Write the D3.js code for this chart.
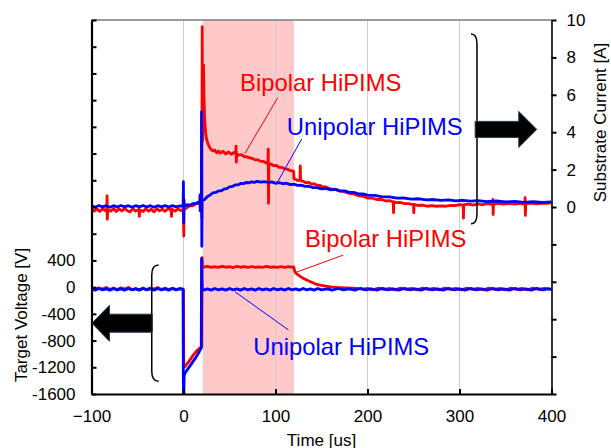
<!DOCTYPE html>
<html>
<head>
<meta charset="utf-8">
<script src="https://cdn.jsdelivr.net/npm/d3@7"></script>
<style>
  html, body { margin: 0; padding: 0; background: #fff; }
  svg { display: block; font-family: "Liberation Sans", Arial, sans-serif; }
</style>
</head>
<body>
<svg id="chart" width="611" height="448"></svg>
<script>
// ---- Data: time in microseconds ----
const timeTicks = [-100, 0, 100, 200, 300, 400];
const voltageTicks = [-1600, -1200, -800, -400, 0, 400, 800, 1200, 1600, 2000, 2400, 2800, 3200, 3600, 4000];
const voltageLabels = [-1600, -1200, -800, -400, 0, 400];
const currentTicks = [-10, -8, -6, -4, -2, 0, 2, 4, 6, 8, 10];
const currentLabels = [0, 2, 4, 6, 8, 10];
const pulseWindow = [21, 120];

// Substrate current [A], bipolar pulse
const bipolarCurrent = [
  [-100,-0.10],[-97,-0.22],[-94,-0.10],[-91,-0.24],[-88,-0.09],[-85,-0.20],[-83.4,-0.12],[-83.1,0.60],[-82.8,-0.65],[-82.4,-0.15],
  [-79,-0.22],[-76,-0.08],[-73,-0.24],[-70,-0.10],[-67,-0.21],[-64,-0.08],[-61,-0.20],[-58,-0.26],[-55,-0.09],[-52,-0.22],
  [-48.3,-0.12],[-48,-0.50],[-47.6,-0.15],[-44,-0.24],[-41,-0.09],[-38,-0.22],[-35,-0.12],[-32,-0.26],[-29,-0.09],[-26,-0.21],
  [-23,-0.11],[-20,-0.23],[-17,-0.09],[-13.4,-0.15],[-13,-0.50],[-12.6,-0.12],[-9,-0.22],[-6,-0.09],[-3,-0.19],[-0.5,-0.14],
  [0,-0.30],[0.3,-1.55],[0.6,0.10],[1.2,-0.12],[4,-0.02],[7,0.06],[10,0.06],[13,0.16],[16,0.18],[18.5,0.30],
  [19.6,0.22],[19.9,-0.60],[20.3,9.65],[20.7,3.50],[21.3,5.20],[21.8,7.60],[22.3,5.80],[23,4.70],[24,4.00],[25,3.65],
  [26.5,3.40],[28,3.22],[30,3.08],[32,3.00],[34,3.04],[36,2.90],[38,3.00],[40,2.88],[43,2.98],[46,2.84],
  [49,2.94],[52,2.82],[55,2.92],[56.8,2.86],[57.1,3.25],[57.4,2.40],[57.8,2.86],[60,2.78],[63,2.80],[66,2.70],
  [69,2.68],[72,2.62],[75,2.60],[78,2.52],[81,2.52],[84,2.44],[87,2.44],[90,2.35],[91.8,2.37],[92.1,3.10],
  [92.4,0.20],[92.8,2.30],[95,2.30],[98,2.20],[101,2.22],[104,2.12],[107,2.12],[110,2.04],[113,2.02],[116,1.95],
  [119.6,1.92],[120.2,1.50],[122,1.48],[124,1.42],[126.6,1.42],[126.9,2.20],[127.3,1.40],[130,1.38],[133,1.30],[136,1.32],
  [139,1.23],[142,1.24],[145,1.16],[148,1.16],[151,1.08],[155,1.07],[160,0.96],[165,0.95],[170,0.85],[175,0.82],
  [180,0.73],[185,0.70],[190,0.60],[195,0.58],[200,0.48],[205,0.48],[210,0.40],[215,0.40],[220,0.32],[224,0.34],
  [228,0.27],[228.3,-0.30],[228.6,0.28],[232,0.23],[236,0.24],[240,0.18],[245,0.18],[250,0.12],[250.3,-0.30],[250.6,0.14],
  [255,0.08],[260,0.10],[265,0.04],[270,0.07],[275,0.04],[280,0.06],[285,0.04],[290,0.09],[295,0.08],[300,0.13],
  [304,0.10],[304.3,-0.60],[304.6,0.12],[310,0.15],[315,0.10],[320,0.17],[325,0.12],[330,0.18],[336,0.14],[336.3,0.40],
  [336.6,-0.40],[337,0.15],[342,0.19],[348,0.15],[354,0.19],[360,0.15],[366,0.19],[371,0.15],[371.3,0.50],[371.6,-0.45],
  [372,0.17],[378,0.21],[384,0.17],[390,0.21],[395,0.19],[400,0.22]
];

// Substrate current [A], unipolar pulse
const unipolarCurrent = [
  [-100,0.06],[-96,-0.01],[-92,0.08],[-88,0.01],[-84,0.07],[-80,-0.01],[-76,0.07],[-72,0.00],[-68,0.08],[-64,0.01],
  [-60,0.07],[-56,-0.01],[-52,0.07],[-48,0.01],[-44,0.08],[-40,0.00],[-36,0.07],[-32,-0.01],[-28,0.07],[-24,0.01],
  [-20,0.07],[-16,0.00],[-12,0.07],[-8,0.01],[-4,0.06],[-0.4,0.03],[-0.1,1.35],[0.2,-0.85],[0.5,0.40],[1,0.05],
  [4,0.12],[7,0.10],[10,0.18],[13,0.18],[16,0.26],[17.7,0.24],[17.9,0.65],[18.1,-0.20],[18.4,0.30],[19.4,0.32],
  [19.6,5.10],[19.9,-2.10],[20.2,0.35],[21,0.38],[23,0.40],[26,0.56],[29,0.64],[32,0.76],[35,0.78],[38,0.86],
  [41,0.86],[44,0.96],[47,0.98],[50,1.08],[53,1.10],[56,1.18],[59,1.18],[62,1.26],[65,1.25],[68,1.31],
  [71,1.29],[74,1.35],[77,1.32],[80,1.37],[84,1.33],[88,1.36],[92,1.31],[96,1.34],[100,1.28],[104,1.30],
  [108,1.25],[112,1.27],[116,1.20],[120,1.22],[124,1.16],[128,1.17],[132,1.10],[136,1.11],[140,1.04],[145,1.04],
  [150,0.97],[155,0.99],[160,0.92],[165,0.94],[170,0.86],[175,0.86],[180,0.78],[185,0.78],[190,0.70],[195,0.70],
  [200,0.63],[208,0.62],[216,0.54],[224,0.54],[232,0.47],[240,0.48],[248,0.42],[256,0.44],[264,0.38],[272,0.40],
  [280,0.35],[288,0.38],[296,0.33],[304,0.36],[312,0.31],[320,0.34],[330,0.29],[340,0.32],[350,0.27],[360,0.30],
  [370,0.25],[380,0.28],[390,0.24],[400,0.27]
];

// Target voltage [V], bipolar pulse
const bipolarVoltage = [
  [-100,-15],[-96,-35],[-92,-10],[-88,-30],[-84,-5],[-80,-35],[-76,-15],[-72,-40],[-68,-10],[-64,-30],
  [-60,-5],[-56,-35],[-52,-20],[-48,-40],[-44,-15],[-40,-35],[-36,-10],[-32,-30],[-28,-5],[-24,-35],
  [-20,-15],[-16,-40],[-12,-15],[-8,-35],[-4,-20],[-0.4,-30],[0,-40],[0.3,-1200],[0.7,-1185],[1.5,-1190],
  [3,-1160],[5,-1130],[8,-1070],[11,-1010],[14,-960],[17,-920],[19.9,-890],[20.3,440],[20.8,320],[22,300],
  [26,310],[30,295],[34,308],[38,296],[42,310],[46,298],[50,306],[54,294],[58,310],[62,298],
  [66,306],[70,295],[74,309],[78,297],[82,305],[86,296],[90,310],[94,298],[98,305],[102,295],
  [106,308],[110,297],[114,306],[117,298],[119.6,304],[120,290],[121,230],[123,200],[125,180],[128,150],
  [131,125],[135,100],[140,70],[145,40],[150,25],[155,15],[160,5],[167,-5],[175,-10],[185,-15],
  [195,-30],[200,-20],[206,-40],[212,-15],[218,-35],[224,-20],[230,-40],[236,-15],[242,-35],[248,-20],
  [254,-40],[260,-15],[266,-35],[272,-20],[278,-40],[284,-15],[290,-35],[296,-20],[302,-40],[308,-15],
  [314,-35],[320,-20],[326,-40],[332,-15],[338,-35],[344,-20],[350,-40],[356,-15],[362,-35],[368,-20],
  [374,-40],[380,-15],[386,-35],[392,-20],[400,-30]
];

// Target voltage [V], unipolar pulse
const unipolarVoltage = [
  [-100,-25],[-96,-45],[-92,-20],[-88,-40],[-84,-25],[-80,-45],[-76,-20],[-72,-40],[-68,-25],[-64,-45],
  [-60,-20],[-56,-40],[-52,-25],[-48,-45],[-44,-20],[-40,-40],[-36,-25],[-32,-45],[-28,-20],[-24,-40],
  [-20,-25],[-16,-45],[-12,-20],[-8,-40],[-4,-25],[-0.5,-35],[-0.1,-1600],[0.4,-1600],[0.7,-1330],[1.5,-1290],
  [3,-1260],[5,-1220],[8,-1160],[11,-1100],[14,-1040],[17,-970],[19.3,-910],[19.6,430],[19.9,120],[20.3,-20],
  [22,-45],[26,-25],[30,-45],[34,-20],[38,-40],[42,-25],[46,-45],[50,-20],[54,-40],[58,-25],
  [62,-45],[66,-20],[70,-40],[74,-25],[78,-45],[82,-20],[86,-40],[90,-25],[94,-45],[98,-20],
  [102,-40],[106,-25],[110,-45],[114,-20],[118,-40],[122,-25],[126,-45],[130,-20],[134,-40],[138,-25],
  [142,-45],[146,-20],[150,-40],[156,-25],[162,-45],[168,-20],[174,-40],[180,-25],[186,-45],[192,-20],
  [198,-40],[204,-25],[210,-45],[216,-20],[222,-40],[228,-25],[234,-45],[240,-20],[246,-40],[252,-25],
  [258,-45],[264,-20],[270,-40],[276,-25],[282,-45],[288,-20],[294,-40],[300,-25],[306,-45],[312,-20],
  [318,-40],[324,-25],[330,-45],[336,-20],[342,-40],[348,-25],[354,-45],[360,-20],[366,-40],[372,-25],
  [378,-45],[384,-20],[390,-40],[396,-25],[400,-35]
];

// ---- Layout ----
const svg = d3.select("#chart");
const plot = { left: 91.5, right: 551.5, top: 20, bottom: 394 };
const RED = "#ff0000", BLUE = "#0000ff";
const FONT = "'Liberation Sans', Arial, sans-serif";

const x = d3.scaleLinear().domain([-100, 400]).range([plot.left, plot.right]);
const yV = d3.scaleLinear().domain([-1600, 4000]).range([plot.bottom, plot.top]);
const yI = d3.scaleLinear().domain([-10, 10]).range([plot.bottom, plot.top]);

svg.append("defs").append("clipPath").attr("id", "plotClip")
  .append("rect").attr("x", plot.left).attr("y", plot.top)
  .attr("width", plot.right - plot.left).attr("height", plot.bottom - plot.top);

// Pulse-on window
svg.append("rect")
  .attr("x", x(pulseWindow[0])).attr("y", plot.top)
  .attr("width", x(pulseWindow[1]) - x(pulseWindow[0]))
  .attr("height", plot.bottom - plot.top)
  .attr("fill", "#ffc9c9");

// Vertical grid lines
svg.append("g").selectAll("line").data(timeTicks.filter(t => t > -100 && t < 400)).join("line")
  .attr("x1", d => x(d)).attr("x2", d => x(d))
  .attr("y1", plot.top).attr("y2", plot.bottom)
  .attr("stroke", "#cfcfcf").attr("stroke-width", 1);

// Top frame
svg.append("line")
  .attr("x1", plot.left).attr("x2", plot.right).attr("y1", plot.top).attr("y2", plot.top)
  .attr("stroke", "#7a7a7a").attr("stroke-width", 1.5);

// Traces
const traces = svg.append("g").attr("clip-path", "url(#plotClip)");
const lineI = d3.line().x(d => x(d[0])).y(d => yI(d[1]));
const lineV = d3.line().x(d => x(d[0])).y(d => yV(d[1]));
[[bipolarVoltage, lineV, RED], [unipolarVoltage, lineV, BLUE],
 [bipolarCurrent, lineI, RED], [unipolarCurrent, lineI, BLUE]].forEach(([data, gen, color]) => {
  traces.append("path").datum(data)
    .attr("d", gen).attr("fill", "none")
    .attr("stroke", color).attr("stroke-width", 2.8)
    .attr("stroke-linejoin", "round");
});

// ---- Axes ----
function styleAxis(g, width) {
  g.attr("font-size", 17).attr("font-family", FONT);
  g.selectAll("text").attr("fill", "#000");
  g.selectAll("line").attr("stroke", "#000").attr("stroke-width", 2);
  g.select(".domain").attr("stroke", "#000").attr("stroke-width", width);
}

const xAxis = svg.append("g").attr("transform", `translate(0,${plot.bottom})`)
  .call(d3.axisBottom(x).tickValues(timeTicks).tickSizeInner(-5).tickSizeOuter(0).tickPadding(16));
styleAxis(xAxis, 2.2);

const vAxis = svg.append("g").attr("transform", `translate(${plot.left},0)`)
  .call(d3.axisLeft(yV).tickValues(voltageTicks).tickSizeInner(-5).tickSizeOuter(0).tickPadding(16)
    .tickFormat(d => voltageLabels.includes(d) ? d : ""));
styleAxis(vAxis, 2.2);

const iAxis = svg.append("g").attr("transform", `translate(${plot.right},0)`)
  .call(d3.axisRight(yI).tickValues(currentTicks).tickSizeInner(5).tickSizeOuter(0).tickPadding(10)
    .tickFormat(d => currentLabels.includes(d) ? d : ""));
styleAxis(iAxis, 1.6);

// Axis titles
svg.append("text").attr("x", (plot.left + plot.right) / 2).attr("y", 445.5)
  .attr("text-anchor", "middle").attr("font-size", 17).attr("font-family", FONT)
  .text("Time [us]");
svg.append("text").attr("transform", "translate(26.5,315) rotate(-90)")
  .attr("text-anchor", "middle").attr("font-size", 17).attr("font-family", FONT)
  .text("Target Voltage [V]");
svg.append("text").attr("transform", "translate(606,122.5) rotate(-90)")
  .attr("text-anchor", "middle").attr("font-size", 17).attr("font-family", FONT)
  .text("Substrate Current [A]");

// ---- Brackets grouping each pair of traces ----
function bracket(xEdge, xTip, yTop, yBot) {
  const r = 10;
  return `M${xEdge},${yTop} Q${xTip},${yTop} ${xTip},${yTop + r} L${xTip},${yBot - r} Q${xTip},${yBot} ${xEdge},${yBot}`;
}
svg.append("path").attr("d", bracket(x(312.5), x(319), yI(9.25), yI(-0.9)))
  .attr("fill", "none").attr("stroke", "#000").attr("stroke-width", 1.5);
svg.append("path").attr("d", bracket(x(-27), x(-34.5), yV(330), yV(-1410)))
  .attr("fill", "none").attr("stroke", "#000").attr("stroke-width", 1.5);

// ---- Block arrows pointing at the matching axis ----
function blockArrow(xTail, xTip, yMid, bodyHalf, headHalf, headLen) {
  const dir = Math.sign(xTip - xTail);
  const xNeck = xTip - dir * headLen;
  return [[xTail, yMid - bodyHalf], [xNeck, yMid - bodyHalf], [xNeck, yMid - headHalf], [xTip, yMid],
          [xNeck, yMid + headHalf], [xNeck, yMid + bodyHalf], [xTail, yMid + bodyHalf]];
}
svg.append("polygon")
  .attr("points", blockArrow(x(317), x(384), yI(4.15), 8, 18, 18).join(" "))
  .attr("fill", "#000").attr("stroke", "#1f3a4f").attr("stroke-width", 1);
svg.append("polygon")
  .attr("points", blockArrow(x(-34), x(-99.5), yV(-540), 9, 18, 17.5).join(" "))
  .attr("fill", "#000").attr("stroke", "#1f3a4f").attr("stroke-width", 1);

// ---- Trace labels with leader lines ----
const labels = [
  { text: "Bipolar HiPIMS", color: RED, t: 61.5, y: yI(6.22), from: [102.4, yI(5.84)], to: [66.8, yI(2.87)] },
  { text: "Unipolar HiPIMS", color: BLUE, t: 112.3, y: yI(3.85), from: [128.5, yI(3.64)], to: [100.5, yI(1.18)] },
  { text: "Bipolar HiPIMS", color: RED, t: 132.1, y: yV(595), from: [173.7, yV(480)], to: [123, yV(226)] },
  { text: "Unipolar HiPIMS", color: BLUE, t: 75.9, y: yV(-1015), from: [56, yV(-70)], to: [114, yV(-640)] }
];
labels.forEach(l => {
  svg.append("line")
    .attr("x1", x(l.from[0])).attr("y1", l.from[1])
    .attr("x2", x(l.to[0])).attr("y2", l.to[1])
    .attr("stroke", l.color).attr("stroke-width", 1);
  svg.append("text").attr("x", x(l.t)).attr("y", l.y)
    .attr("font-size", 23.8).attr("font-family", FONT).attr("fill", l.color)
    .text(l.text);
});
</script>
</body>
</html>
